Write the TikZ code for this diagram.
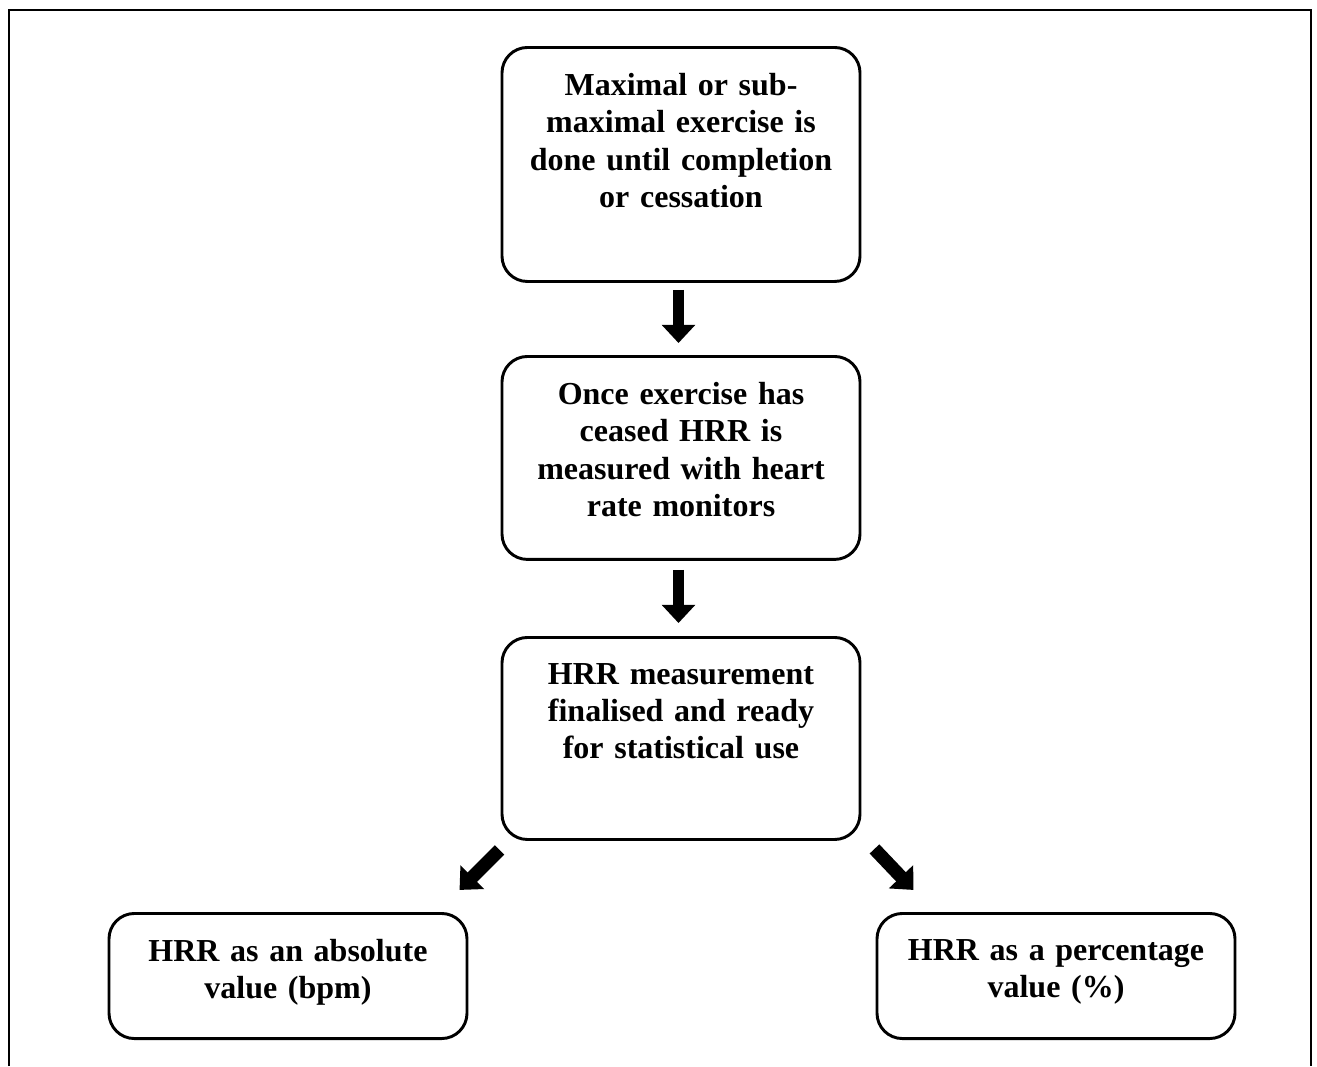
\documentclass[tikz,border=0pt]{standalone}
\usepackage{fontspec}
\setmainfont{Liberation Serif}
\usetikzlibrary{positioning,arrows.meta}
\begin{document}
\begin{tikzpicture}[x=0.375pt,y=-0.375pt,
      box/.style={draw, line width=1.1pt, rounded corners=9.5pt, minimum width=134.25pt, inner sep=0pt, anchor=north},
      txt/.style={inner sep=0pt, align=center, text width=134pt, font=\bfseries\fontsize{12}{14}\selectfont},
      freccia/.style={line width=4.2pt, -{Triangle[length=6.8pt,width=12.2pt]}}]
   \useasboundingbox (0,0) rectangle (1317,1066);
   %cornice
   \draw[line width=0.9pt] (9,1066) -- (9,10) -- (1311,10) -- (1311,1066);
   %riquadri
   \node[box, minimum height=87.75pt] (b1) at (681,46) {};
   \node[box, minimum height=76.1pt] (b2) at (681,355) {};
   \node[box, minimum height=75.75pt] (b3) at (681,636) {};
   \node[box, minimum height=46.9pt] (b4) at (288,912) {};
   \node[box, minimum height=46.9pt] (b5) at (1056,912) {};
   %testi
   \node[txt, below=10pt of b1.north] (t1) {Maximal or sub-\\maximal exercise is\\done until completion\\or cessation};
   \node[txt, below=10pt of b2.north] (t2) {Once exercise has\\ceased HRR is\\measured with heart\\rate monitors};
   \node[txt, below=10pt of b3.north] (t3) {HRR measurement\\finalised and ready\\for statistical use};
   \node[txt, below=10pt of b4.north] (t4) {HRR as an absolute\\value (bpm)};
   \node[txt, below=10pt of b5.north] (t5) {HRR as a percentage\\value (\%)};
   %frecce
   \draw[freccia] ([shift={(-2.5,7)}]b1.south) -- ([shift={(-2.5,-12)}]b2.north);
   \draw[freccia] ([shift={(-2.5,9)}]b2.south) -- ([shift={(-2.5,-13)}]b3.north);
   \draw[freccia, line width=5pt] ([shift={(-1,9)}]b3.south west) -- ([shift={(-41,49)}]b3.south west);
   \draw[freccia, line width=5pt] ([shift={(13,8)}]b3.south east) -- ([shift={(52,49)}]b3.south east);
\end{tikzpicture}
\end{document}
